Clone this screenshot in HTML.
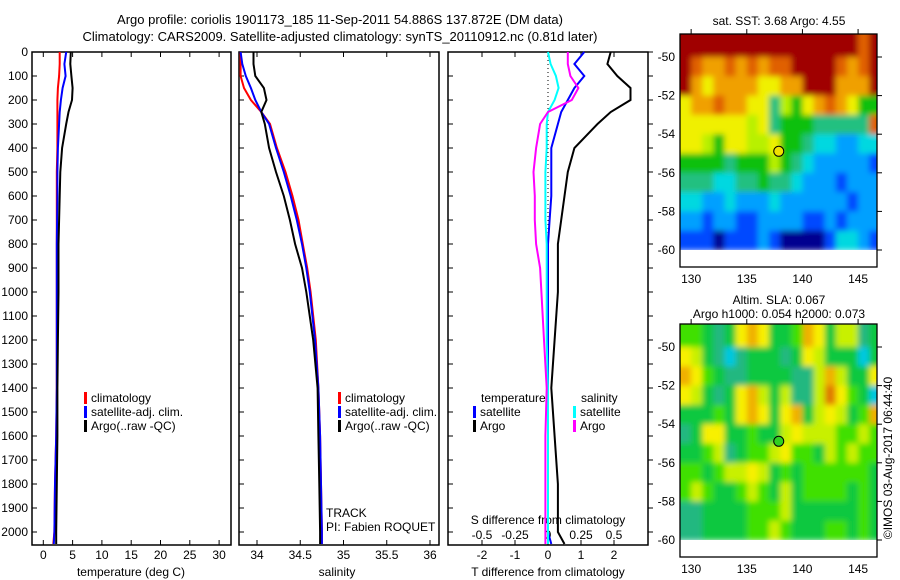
<!DOCTYPE html>
<html><head><meta charset="utf-8">
<style>
html,body{margin:0;padding:0;background:#fff;}
svg{display:block;font-family:"Liberation Sans",sans-serif;}
text{font-size:12px;fill:#000;}
</style></head>
<body>
<svg id="chart" width="900" height="580" viewBox="0 0 900 580" xmlns="http://www.w3.org/2000/svg">
<defs>
<filter id="blurSST" x="0" y="0" width="1" height="1"><feGaussianBlur stdDeviation="3" edgeMode="duplicate"/></filter>
<filter id="blurSLA" x="0" y="0" width="1" height="1"><feGaussianBlur stdDeviation="3" edgeMode="duplicate"/></filter>
<clipPath id="clipTop"><rect x="680" y="34" width="197" height="216"/></clipPath>
<clipPath id="clipBot"><rect x="680" y="324" width="197" height="216"/></clipPath>
</defs>
<text x="340" y="24" text-anchor="middle" style="font-size:13px">Argo profile: coriolis 1901173_185 11-Sep-2011 54.886S 137.872E (DM data)</text>
<text x="340" y="41" text-anchor="middle" style="font-size:13px">Climatology: CARS2009. Satellite-adjusted climatology: synTS_20110912.nc (0.81d later)</text>
<g id="g"></g>
</svg>
<script>
// ---- profile data ----
const depths = [0,50,100,150,200,250,300,400,500,600,700,800,900,1000,1200,1400,1600,1800,2000,2050];
const tClim  = [2.8,2.8,2.7,2.5,2.4,2.4,2.4,2.4,2.3,2.3,2.3,2.3,2.3,2.3,2.3,2.3,2.2,2.0,1.9,1.7];
const tSat   = [3.9,3.6,3.8,3.3,3.0,2.8,2.7,2.5,2.4,2.4,2.35,2.3,2.3,2.3,2.3,2.3,2.2,2.0,1.9,1.8];
const tArgo  = [4.7,4.6,4.8,5.0,4.9,4.3,3.9,3.2,2.9,2.8,2.7,2.6,2.6,2.6,2.5,2.4,2.4,2.3,2.2,2.2];
const sClim  = [33.81,33.81,33.81,33.85,33.93,34.05,34.15,34.23,34.33,34.41,34.48,34.53,34.58,34.62,34.68,34.71,34.73,34.74,34.75,34.75];
const sSat   = [33.81,33.83,33.87,33.93,33.98,34.05,34.14,34.22,34.31,34.39,34.46,34.52,34.57,34.61,34.67,34.71,34.73,34.74,34.75,34.75];
const sArgo  = [33.96,33.96,33.98,34.08,34.11,34.05,34.09,34.14,34.22,34.31,34.38,34.44,34.52,34.57,34.65,34.70,34.71,34.72,34.73,34.73];
const depthTicks = [0,100,200,300,400,500,600,700,800,900,1000,1100,1200,1300,1400,1500,1600,1700,1800,1900,2000];
const tempTicks = [0,5,10,15,20,25,30];
const salTicks = [34,34.5,35,35.5,36];
const tDiffTicks = [-2,-1,0,1,2];
const sDiffTicks = [-0.5,-0.25,0,0.25,0.5];
// ---- map data (rows lat -49..-60, cols lon 129..147) ----
const sstGrid = [
[10,10,10,10,10,10,10,10,10,10,10,10,10,10,10,10,9,10],
[10,9,8,8,9,8,9,8,9,9,10,10,10,10,9,8,9,10],
[10,8,7,8,8,8,8,7,7,8,8,10,10,10,8,8,8,10],
[7,8,8,9,8,8,7,7,4,6,5,7,8,9,8,7,5,5],
[7,7,7,7,7,7,6,7,4,5,5,5,4,4,4,4,4,9],
[7,7,6,5,7,7,6,6,7,5,5,4,3,3,2,2,3,3],
[5,5,5,5,4,5,5,5,6,5,4,3,2,2,2,2,2,1],
[4,4,4,3,3,4,4,5,4,4,3,2,2,2,1,2,2,2],
[3,3,2,2,3,2,2,2,3,2,2,2,2,2,2,1,2,2],
[2,2,1,2,2,1,1,2,2,2,2,1,1,2,1,2,2,2],
[1,1,1,0,1,1,1,2,1,0,0,0,0,1,3,3,2,1]];
const slaGrid = [
[3,3,2,1,2,5,6,5,2,2,3,6,5,2,4,4,1,2],
[5,4,2,1,0,1,2,2,2,1,2,5,4,2,2,2,0,2],
[6,5,3,2,1,1,2,2,2,2,1,1,4,6,4,2,2,5],
[5,4,2,1,2,5,6,4,2,4,1,1,4,7,5,3,2,0],
[2,2,2,3,2,5,6,5,2,5,6,2,4,5,4,2,3,6],
[1,2,5,5,2,2,3,2,2,4,5,4,4,4,3,3,4,3],
[2,2,3,4,1,2,3,3,4,5,3,3,2,4,3,4,3,3],
[3,3,2,3,4,4,5,4,2,3,2,3,3,3,3,3,3,2],
[3,4,3,2,2,3,4,3,2,4,2,3,3,3,3,2,3,2],
[1,1,2,2,2,2,3,3,3,4,2,2,2,2,2,2,3,2],
[1,1,2,2,2,2,3,3,4,3,2,2,2,3,3,2,3,2]];
const latTicks = [-50,-52,-54,-56,-58,-60];
const lonTicks = [130,135,140,145];
const floatLon = 137.872, floatLat = -54.886;

const sstColors = ['#000090','#0048ff','#00a0ff','#00d8e0','#20c080','#10c010','#b8f000','#f0f000','#f0a000','#e06000','#a00000'];
const slaColors = ['#00c8e0','#20b880','#10c840','#40e000','#c8f000','#f8f000','#f0b000','#e07800'];

const NS='http://www.w3.org/2000/svg';
const G=document.getElementById('g');
function mk(tag,attrs,parent){const e=document.createElementNS(NS,tag);for(const k in attrs)e.setAttribute(k,attrs[k]);(parent||G).appendChild(e);return e;}
function txt(x,y,s,anchor,parent){const t=mk('text',{x:x,y:y,'text-anchor':anchor||'middle'},parent);t.textContent=s;return t;}

const Y=d=>52+d*0.24;
const PTOP=52, PBOT=545;
const panels=[{l:32,r:231},{l:239,r:439},{l:448,r:648}];
const xT=v=>43.3+v*5.86;
const xS=v=>257+(v-34)*86.5;
const xTD=v=>548+v*33;
const xSD=v=>548+v*132;

function line(xs,xf,color,name,w){
  const p=xs.map((v,i)=>xf(v).toFixed(1)+','+Y(depths[i]).toFixed(1)).join(' ');
  const e=mk('polyline',{points:p,fill:'none',stroke:color,'stroke-width':w||2});
  
  
}

panels.forEach((p,i)=>{
  const r=mk('rect',{x:p.l,y:PTOP,width:p.r-p.l,height:PBOT-PTOP,fill:'none',stroke:'#000','stroke-width':1.5});
  
  
  depthTicks.forEach(d=>{
    mk('line',{x1:p.l,x2:p.l+5,y1:Y(d),y2:Y(d),stroke:'#000'});
    if(i==2) mk('line',{x1:p.r,x2:p.r+5,y1:Y(d),y2:Y(d),stroke:'#000'});
  });
});
depthTicks.forEach(d=>{
  const t=txt(28,Y(d)+4,String(d),'end');
  
  
});
tempTicks.forEach(v=>{const x=xT(v);mk('line',{x1:x,x2:x,y1:PBOT,y2:PBOT-5,stroke:'#000'});mk('line',{x1:x,x2:x,y1:PTOP,y2:PTOP+5,stroke:'#000'});
  const t=txt(x,559,String(v));});
salTicks.forEach(v=>{const x=xS(v);mk('line',{x1:x,x2:x,y1:PBOT,y2:PBOT-5,stroke:'#000'});mk('line',{x1:x,x2:x,y1:PTOP,y2:PTOP+5,stroke:'#000'});
  const t=txt(x,559,String(v));});
tDiffTicks.forEach(v=>{const x=xTD(v);mk('line',{x1:x,x2:x,y1:PBOT,y2:PBOT-5,stroke:'#000'});mk('line',{x1:x,x2:x,y1:PTOP,y2:PTOP+5,stroke:'#000'});
  const t=txt(x,559,String(v));});
sDiffTicks.forEach(v=>{const x=xSD(v);
  const t=txt(x,539,String(v));});

let t;
t=txt(131,576,'temperature (deg C)');
t=txt(337,576,'salinity');
t=txt(548,576,'T difference from climatology');
t=txt(548,524,'S difference from climatology');

mk('line',{x1:xTD(0),x2:xTD(0),y1:PTOP,y2:240,stroke:'#000','stroke-dasharray':'1,3'});

line(tClim,xT,'#ff0000','temp-climatology-line');
line(tSat,xT,'#0000ff','temp-satellite-line');
line(tArgo,xT,'#000000','temp-argo-line');
line(sClim,xS,'#ff0000','sal-climatology-line');
line(sSat,xS,'#0000ff','sal-satellite-line');
line(sArgo,xS,'#000000','sal-argo-line');
line(tSat.map((v,i)=>v-tClim[i]),xTD,'#0000ff','tdiff-satellite-line');
line(tArgo.map((v,i)=>v-tClim[i]),xTD,'#000000','tdiff-argo-line');
line(sSat.map((v,i)=>v-sClim[i]),xSD,'#00ffff','sdiff-satellite-line');
line(sArgo.map((v,i)=>v-sClim[i]),xSD,'#ff00ff','sdiff-argo-line');

function leg(x,y,color,label,name){
  mk('rect',{x:x,y:y-10,width:3,height:12,fill:color});
  const tt=txt(x+7,y,label,'start');
  
  
}
leg(84,402,'#ff0000','climatology','legend-climatology');
leg(84,416,'#0000ff','satellite-adj. clim.','legend-satellite');
leg(84,430,'#000000','Argo(..raw -QC)','legend-argo');
leg(338,402,'#ff0000','climatology','legend-sal-climatology');
leg(338,416,'#0000ff','satellite-adj. clim.','legend-sal-satellite');
leg(338,430,'#000000','Argo(..raw -QC)','legend-sal-argo');
t=txt(481,402,'temperature','start');
t=txt(581,402,'salinity','start');
leg(473,416,'#0000ff','satellite','legend-tdiff-satellite');
leg(473,430,'#000000','Argo','legend-tdiff-argo');
leg(573,416,'#00ffff','satellite','legend-sdiff-satellite');
leg(573,430,'#ff00ff','Argo','legend-sdiff-argo');
t=txt(326,517,'TRACK','start');
t=txt(326,531,'PI: Fabien ROQUET','start');

const MX0=680, MX1=877, LON0=129, LON1=146.7;
const lx=lon=>MX0+(lon-LON0)*(MX1-MX0)/(LON1-LON0);
function drawMap(top,grid,colors,name,markerColor,filt,clip){
  const latY=lat=>top+23+(-50-lat)*19.3;
  const outer=mk('g',{'clip-path':'url(#'+clip+')'});
  const grp=mk('g',{filter:'url(#'+filt+')'},outer);
  
  
  grid.forEach((row,r)=>row.forEach((v,c)=>{
    const x0=lx(129+c)-(c==0?12:0), x1=lx(130+c)+(c==row.length-1?12:0);
    const y0=latY(-49-r)-(r==0?12:0), y1=latY(-50-r);
    const cell=mk('rect',{x:x0,y:y0,width:x1-x0+0.5,height:y1-y0+0.5,fill:colors[v]},grp);
    
    
  }));
  const fr=mk('rect',{x:MX0,y:top,width:MX1-MX0,height:233,fill:'none',stroke:'#000','stroke-width':1.3});
  
  
  latTicks.forEach(l=>{const y=latY(l);mk('line',{x1:MX1,x2:MX1+5,y1:y,y2:y,stroke:'#000'});
    const tt=txt(675,y+4,String(l),'end');});
  lonTicks.forEach(l=>{const x=lx(l);mk('line',{x1:x,x2:x,y1:top,y2:top-5,stroke:'#000'});
    const tt=txt(x,top+249,String(l));});
  const m=mk('circle',{cx:lx(floatLon),cy:latY(floatLat),r:5,fill:markerColor,stroke:'#000','stroke-width':1});
  
  
}
drawMap(34,sstGrid,sstColors,'sst-map','#f0e000','blurSST','clipTop');
drawMap(324,slaGrid,slaColors,'sla-map','#30d020','blurSLA','clipBot');
t=txt(779,25,'sat. SST: 3.68 Argo: 4.55');
t=txt(779,304,'Altim. SLA: 0.067');
t=txt(779,318,'Argo h1000: 0.054 h2000: 0.073');
t=txt(0,0,'©IMOS 03-Aug-2017 06:44:40');
t.setAttribute('transform','translate(892,458) rotate(-90)');


</script>
</body></html>
